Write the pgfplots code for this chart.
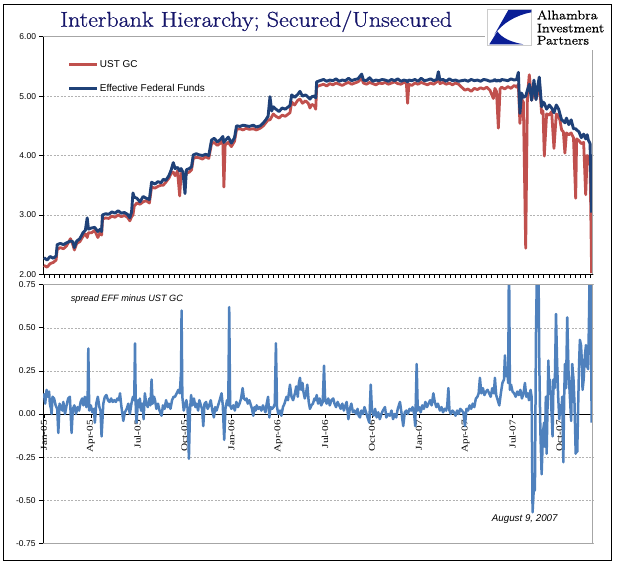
\documentclass[border=0pt]{standalone}
\usepackage{fontspec}
\usepackage{pgfplots}
\usepackage{pgfplotstable}
\pgfplotsset{compat=1.18}
\newfontfamily\arial{Liberation Sans}
\newfontfamily\tnr[FakeStretch=1.25]{Liberation Serif}
\newfontfamily\logofont[FakeStretch=1.15,FakeBold=0.6]{Latin Modern Roman}
\newfontfamily\titlefont[FakeStretch=1.12,FakeBold=0.8]{Latin Modern Roman}
\definecolor{gcred}{RGB}{192,80,77}
\definecolor{effblue}{RGB}{31,65,120}
\definecolor{sprblue}{RGB}{79,129,189}
\definecolor{titleblue}{RGB}{20,20,105}
\definecolor{logoblue}{RGB}{10,30,150}

\pgfplotstableread{
m gc eff
0.00 2.15 2.28
0.20 2.12 2.24
0.40 2.18 2.30
0.60 2.20 2.27
0.78 2.24 2.31
0.85 2.42 2.50
1.05 2.45 2.52
1.25 2.43 2.50
1.45 2.48 2.53
1.70 2.60 2.56
1.85 2.50 2.55
1.95 2.41 2.45
2.10 2.52 2.56
2.30 2.55 2.60
2.50 2.64 2.70
2.65 2.68 2.74
2.77 2.62 2.95
2.85 2.70 2.76
3.05 2.70 2.78
3.25 2.74 2.79
3.45 2.62 2.72
3.60 2.70 2.76
3.69 2.66 2.72
3.75 2.93 3.00
3.95 2.95 3.02
4.15 2.94 3.01
4.35 2.98 3.05
4.55 2.96 3.03
4.75 3.00 3.07
4.95 2.97 3.03
5.15 2.99 3.04
5.35 2.96 3.01
5.50 2.90 2.95
5.61 2.97 3.05
5.70 3.00 3.37
5.78 3.15 3.30
5.95 3.20 3.28
6.15 3.18 3.22
6.35 3.22 3.31
6.55 3.24 3.28
6.75 3.20 3.26
6.89 3.47 3.55
7.10 3.45 3.52
7.30 3.48 3.56
7.50 3.50 3.54
7.64 3.50 3.60
7.80 3.55 3.58
8.00 3.62 3.66
8.15 3.70 3.76
8.28 3.72 3.88
8.40 3.66 3.78
8.55 3.74 3.80
8.69 3.32 3.74
8.78 3.70 3.78
8.90 3.66 3.72
9.03 3.62 3.36
9.12 3.70 3.76
9.30 3.72 3.78
9.45 3.76 3.81
9.56 3.95 4.01
9.75 3.97 4.03
9.95 3.96 4.01
10.15 3.94 4.00
10.35 3.98 4.02
10.55 3.95 4.00
10.73 4.20 4.26
10.90 4.22 4.29
11.10 4.17 4.23
11.30 4.21 4.27
11.45 4.25 4.32
11.52 3.47 4.22
11.60 4.18 4.25
11.80 4.22 4.31
12.00 4.15 4.21
12.20 4.24 4.30
12.33 4.44 4.50
12.55 4.45 4.49
12.75 4.43 4.51
12.95 4.46 4.50
13.15 4.44 4.49
13.40 4.45 4.51
13.60 4.43 4.48
13.85 4.46 4.50
14.05 4.50 4.55
14.20 4.55 4.60
14.35 4.60 4.66
14.47 4.60 4.99
14.58 4.65 4.75
14.68 4.70 4.82
14.85 4.66 4.78
15.05 4.63 4.74
15.25 4.68 4.80
15.45 4.66 4.78
15.65 4.70 4.82
15.75 4.72 4.84
15.86 4.90 5.02
16.05 4.85 4.98
16.25 4.93 5.03
16.39 4.95 5.08
16.55 4.88 5.00
16.75 4.92 5.02
16.92 4.88 4.98
17.03 4.80 4.95
17.15 4.86 4.99
17.30 4.84 5.00
17.40 4.78 4.97
17.46 5.16 5.24
17.67 5.18 5.26
17.90 5.20 5.28
18.10 5.17 5.25
18.30 5.21 5.27
18.50 5.19 5.26
18.70 5.22 5.29
18.90 5.20 5.25
19.10 5.18 5.27
19.30 5.21 5.26
19.50 5.23 5.30
19.70 5.20 5.26
19.90 5.22 5.28
20.10 5.24 5.29
20.34 5.30 5.37
20.45 5.22 5.27
20.65 5.20 5.26
20.85 5.23 5.31
21.05 5.21 5.25
21.25 5.19 5.27
21.45 5.22 5.26
21.65 5.21 5.28
21.85 5.23 5.27
22.05 5.20 5.25
22.25 5.22 5.28
22.45 5.24 5.26
22.65 5.21 5.29
22.85 5.20 5.25
23.05 5.23 5.27
23.20 5.22 5.26
23.28 4.88 5.24
23.36 5.20 5.27
23.55 5.18 5.26
23.75 5.22 5.28
23.95 5.20 5.25
24.15 5.23 5.30
24.35 5.21 5.26
24.55 5.19 5.27
24.75 5.22 5.29
24.95 5.20 5.26
25.15 5.24 5.28
25.25 5.32 5.41
25.35 5.21 5.27
25.55 5.23 5.28
25.75 5.20 5.25
25.95 5.22 5.29
26.15 5.19 5.26
26.35 5.22 5.27
26.55 5.20 5.25
26.74 5.15 5.26
26.95 5.10 5.27
27.15 5.12 5.25
27.35 5.08 5.28
27.55 5.13 5.26
27.75 5.11 5.27
27.95 5.14 5.25
28.15 5.12 5.28
28.35 5.15 5.27
28.55 5.10 5.25
28.77 4.96 5.26
28.87 5.13 5.28
28.97 5.08 5.25
29.09 4.46 5.27
29.20 5.12 5.25
29.30 5.15 5.28
29.50 5.12 5.27
29.70 5.16 5.26
29.90 5.13 5.29
30.10 5.18 5.27
30.26 5.15 5.28
30.37 5.20 5.40
30.47 4.54 4.71
30.58 4.95 5.05
30.69 4.90 4.98
30.84 2.44 5.00
30.95 5.00 5.10
31.07 5.36 5.20
31.22 4.93 4.93
31.37 5.10 5.27
31.50 4.95 4.94
31.60 5.05 5.15
31.71 5.25 5.32
31.86 4.71 4.82
31.95 4.75 4.90
32.03 3.99 4.88
32.18 4.70 4.78
32.35 4.68 4.85
32.50 4.74 4.80
32.65 4.12 4.72
32.80 4.70 4.85
32.95 4.65 4.78
33.03 4.60 4.70
33.14 4.43 4.60
33.25 4.40 4.58
33.35 4.04 4.55
33.45 4.38 4.63
33.60 4.35 4.52
33.75 4.38 4.60
33.90 4.30 4.45
34.04 3.28 4.45
34.10 4.28 4.43
34.25 4.25 4.40
34.40 4.20 4.30
34.55 4.22 4.36
34.68 3.34 4.28
34.78 4.00 4.35
34.85 3.98 4.26
34.96 3.95 4.20
35.06 2.02 3.04
}\topdata

\pgfplotstableread{
m s
0.00 0.12
0.08 0.06
0.17 0.14
0.25 0.10
0.33 0.13
0.38 0.06
0.45 0.03
0.49 0.00
0.55 0.10
0.65 0.09
0.75 0.05
0.85 0.03
0.92 -0.11
1.00 0.06
1.10 0.04
1.18 0.02
1.24 0.07
1.35 0.00
1.45 0.05
1.55 0.09
1.66 0.10
1.77 -0.11
1.85 0.03
1.95 0.05
2.05 0.00
2.15 0.04
2.25 0.02
2.35 0.07
2.45 0.09
2.52 0.05
2.62 0.10
2.72 0.04
2.80 0.10
2.84 0.38
2.90 0.02
3.00 0.05
3.10 0.01
3.20 0.03
3.26 -0.05
3.35 0.06
3.45 0.10
3.55 0.04
3.62 0.02
3.69 -0.13
3.80 0.06
3.90 0.10
4.00 0.11
4.10 0.08
4.20 0.07
4.30 0.09
4.40 0.07
4.50 0.08
4.60 0.07
4.70 0.09
4.80 0.08
4.87 0.12
4.95 0.05
5.08 -0.04
5.18 0.01
5.30 0.03
5.40 0.06
5.50 0.00
5.60 0.06
5.70 0.10
5.78 0.08
5.83 0.41
5.88 0.03
5.93 -0.05
6.02 0.08
6.10 0.04
6.14 0.09
6.22 0.02
6.30 0.06
6.38 -0.03
6.46 0.12
6.55 0.06
6.65 0.04
6.75 0.09
6.82 0.05
6.89 0.20
6.96 0.06
7.05 0.10
7.11 0.08
7.20 0.03
7.30 0.06
7.40 0.02
7.53 -0.01
7.62 0.05
7.72 0.03
7.82 0.08
7.92 0.04
8.00 0.06
8.10 0.03
8.20 0.08
8.30 0.10
8.39 0.10
8.50 0.12
8.60 0.14
8.70 0.12
8.78 0.25
8.81 0.60
8.86 0.10
8.95 0.02
9.03 0.05
9.12 0.08
9.20 0.03
9.28 -0.26
9.35 0.02
9.42 0.11
9.50 0.05
9.60 0.09
9.70 0.04
9.77 0.06
9.87 0.02
9.95 0.08
10.05 0.05
10.12 0.03
10.20 -0.07
10.28 0.06
10.38 0.07
10.48 0.03
10.58 0.05
10.68 0.08
10.78 0.02
10.88 -0.02
10.96 0.04
11.05 0.02
11.15 0.05
11.25 0.08
11.37 0.12
11.45 0.05
11.54 -0.15
11.62 0.03
11.72 0.08
11.80 0.05
11.86 0.62
11.92 0.05
12.00 0.03
12.12 0.05
12.22 0.02
12.32 0.07
12.42 0.04
12.52 0.06
12.62 0.09
12.72 0.15
12.80 0.09
12.90 0.08
12.97 0.09
13.05 0.06
13.15 0.08
13.25 0.05
13.32 0.03
13.40 -0.01
13.48 0.04
13.55 0.02
13.62 0.05
13.72 0.03
13.82 0.04
13.92 0.02
14.02 0.05
14.10 0.03
14.18 0.01
14.26 0.06
14.35 0.10
14.43 -0.02
14.50 0.04
14.60 0.03
14.70 0.04
14.78 0.06
14.85 0.41
14.92 0.04
15.00 0.00
15.11 0.02
15.20 -0.01
15.30 0.04
15.40 0.06
15.53 0.10
15.62 0.08
15.75 0.17
15.85 0.10
15.95 0.08
16.07 0.12
16.15 0.16
16.25 0.10
16.32 0.18
16.39 0.21
16.47 0.14
16.55 0.18
16.61 0.13
16.70 0.09
16.78 0.12
16.86 0.17
16.95 0.07
17.03 0.03
17.12 0.05
17.22 0.06
17.32 0.09
17.40 0.08
17.46 0.11
17.55 0.06
17.65 0.09
17.75 0.05
17.85 0.07
17.93 0.28
18.00 0.08
18.10 0.06
18.20 0.09
18.30 0.05
18.40 0.08
18.52 0.09
18.60 0.06
18.70 0.04
18.80 0.07
18.90 0.05
19.00 0.03
19.10 0.06
19.20 0.02
19.30 0.05
19.38 0.07
19.49 -0.03
19.58 0.03
19.68 0.06
19.78 0.01
19.88 0.02
19.98 0.00
20.08 0.03
20.15 -0.01
20.23 -0.02
20.32 0.02
20.42 0.00
20.52 0.04
20.62 0.01
20.72 -0.02
20.83 -0.05
20.92 0.17
21.00 0.02
21.10 -0.01
21.20 0.03
21.30 -0.02
21.40 0.01
21.50 -0.03
21.60 0.00
21.70 0.02
21.83 0.04
21.92 -0.02
22.02 0.00
22.15 -0.01
22.25 0.02
22.35 -0.03
22.45 0.00
22.55 -0.02
22.65 0.03
22.79 0.07
22.90 0.00
23.00 -0.07
23.10 0.01
23.20 0.02
23.30 0.00
23.40 0.03
23.50 0.02
23.60 0.04
23.70 0.00
23.77 -0.07
23.86 0.29
23.93 0.02
24.02 0.04
24.12 0.01
24.22 0.05
24.32 0.03
24.42 0.07
24.52 0.04
24.62 0.06
24.72 0.08
24.82 0.05
24.93 0.12
25.02 0.07
25.12 0.04
25.22 0.06
25.35 0.02
25.45 0.04
25.55 0.01
25.65 0.03
25.75 0.02
25.82 0.05
25.89 0.15
25.96 0.02
26.05 0.00
26.15 0.02
26.25 0.01
26.35 -0.01
26.45 0.02
26.55 0.00
26.65 0.03
26.75 0.02
26.85 0.01
26.95 -0.07
27.05 0.03
27.15 0.02
27.25 0.05
27.35 0.03
27.45 0.06
27.55 0.04
27.65 0.09
27.75 0.10
27.83 0.12
27.91 0.21
28.00 0.12
28.10 0.15
28.20 0.11
28.30 0.13
28.40 0.14
28.50 0.12
28.60 0.10
28.70 0.15
28.80 0.12
28.87 0.21
28.95 0.11
29.05 0.08
29.15 0.05
29.25 0.12
29.35 0.18
29.45 0.20
29.51 0.34
29.58 0.22
29.65 0.26
29.72 0.18
29.77 0.95
29.83 0.14
29.90 0.17
30.00 0.13
30.10 0.12
30.20 0.10
30.30 0.13
30.40 0.11
30.50 0.14
30.60 0.09
30.70 0.12
30.79 0.18
30.88 0.10
30.98 0.12
31.05 0.08
31.15 0.14
31.22 0.10
31.28 -0.57
31.35 -0.45
31.43 -0.44
31.50 0.48
31.58 0.95
31.65 0.95
31.71 0.30
31.78 -0.10
31.86 -0.35
31.95 -0.10
32.02 -0.05
32.07 -0.19
32.13 0.10
32.18 -0.23
32.24 0.05
32.29 0.31
32.34 0.15
32.39 0.20
32.45 0.10
32.50 0.00
32.56 -0.13
32.62 0.20
32.70 0.15
32.78 0.58
32.85 0.30
32.92 0.10
32.99 -0.03
33.05 0.05
33.12 0.00
33.18 0.10
33.25 -0.28
33.30 0.08
33.35 0.29
33.42 0.15
33.50 0.56
33.58 0.25
33.67 0.10
33.75 -0.04
33.82 0.29
33.90 0.20
33.97 0.05
34.04 -0.23
34.10 -0.20
34.14 -0.22
34.20 0.05
34.26 0.30
34.31 0.43
34.38 0.40
34.44 0.30
34.48 0.14
34.55 0.20
34.63 0.34
34.70 0.40
34.74 0.28
34.80 0.27
34.84 0.26
34.90 0.60
34.95 0.95
35.00 0.95
35.06 -0.05
}\spreaddata

\begin{document}
\begin{tikzpicture}
\fill[white] (0,0) rectangle (618bp,-581bp);
\useasboundingbox (0,0) rectangle (618bp,-581bp);
\draw[black, line width=1bp] (3.3bp,-4bp) rectangle (611.7bp,-560bp);

\pgfplotsset{
  every axis/.append style={
    scale only axis,
    xmin=-0.06, xmax=35.13,
    axis line style={black, line width=0.8bp},
    tick style={black, line width=0.6bp},
    major tick length=4bp,
    tick align=outside,
    ymajorgrids,
    major grid style={gray!60, dash pattern=on 2bp off 1.5bp, line width=0.5bp},
    yticklabel style={font=\fontsize{8.5}{10}\arial, /pgf/number format/assume math mode=true},
    /pgf/number format/.cd, fixed, fixed zerofill, precision=2,
  },
}

\begin{axis}[
  name=top,
  at={(43bp,-274.3bp)}, anchor=south west,
  width=549.7bp, height=237.6bp,
  axis x line*=bottom, axis y line*=left,
  ymin=2, ymax=6, ytick={2,3,4,5,6},
  xtick={0,0.3333,...,35.1},
  xticklabels={},
  major tick length=3.5bp,
  legend style={draw=none, fill=none, at={(axis description cs:0.045,0.905)}, anchor=north west,
    font=\fontsize{10}{12}\arial, row sep=13bp, inner sep=0pt, nodes={inner sep=1pt}},
  legend cell align=left,
  legend image code/.code={\draw[#1, line width=3bp] (0bp,0bp) -- (28bp,0bp);},
]
\addplot[gcred, line width=2.8bp, line join=round] table[x=m, y=gc] {\topdata};
\addlegendentry{UST GC}
\addplot[effblue, line width=2.9bp, line join=round] table[x=m, y=eff] {\topdata};
\addlegendentry{Effective Federal Funds}
\end{axis}
\draw[gray!70, line width=0.8bp] (top.north west) -- (top.north east) -- (top.south east);

\begin{axis}[
  name=bot,
  at={(43bp,-543.3bp)}, anchor=south west,
  width=549.7bp, height=258.6bp,
  axis x line*=middle, axis y line*=left,
  hide obscured x ticks=false,
  ymin=-0.75, ymax=0.75, ytick={-0.75,-0.5,...,0.76},
  xtick={0,3,...,33},
  xticklabels={Jan-05,Apr-05,Jul-05,Oct-05,Jan-06,Apr-06,Jul-06,Oct-06,Jan-07,Apr-07,Jul-07,Oct-07},
  xticklabel style={rotate=90, anchor=east, font=\fontsize{9}{10}\tnr, inner sep=2pt},
]
\addplot[sprblue, line width=2.5bp, line join=round] table[x=m, y=s] {\spreaddata};
\node[font=\fontsize{9.2}{11}\arial\itshape, anchor=center] at (axis cs:5.31,0.669) {spread EFF minus UST GC};
\node[font=\fontsize{9.8}{11}\arial\itshape, anchor=center] at (axis cs:30.78,-0.61) {August 9, 2007};
\end{axis}
\draw[gray!70, line width=0.8bp] (bot.north west) -- (bot.north east) -- (bot.south east) -- (bot.south west);

% title
\node[anchor=base west, inner sep=0pt, text=titleblue, font=\fontsize{21.5}{24}\titlefont] at (60bp,-26.7bp) {Interbank Hierarchy; Secured/Unsecured};

% logo
\fill[white] (485bp,-5bp) rectangle (610.5bp,-50bp);
\begin{scope}[shift={(440bp,0bp)}, x=0.3333bp, y=-0.3333bp]
  \draw[gray!40, fill=white, line width=0.6bp] (142,28) rectangle (275,135);
  \fill[logoblue] (205,30) -- (274,30) -- (274,37) .. controls (225,46) and (185,72) .. (163,104) -- cycle;
  \fill[logoblue] (148,133) -- (250,133) .. controls (212,126) and (186,114) .. (172,94) -- cycle;
\end{scope}
\node[anchor=base west, inner sep=0pt, font=\fontsize{12.5}{13}\logofont] at (536.7bp,-19.3bp) {Alhambra};
\node[anchor=base west, inner sep=0pt, font=\fontsize{12.5}{13}\logofont] at (536.7bp,-32.3bp) {Investment};
\node[anchor=base west, inner sep=0pt, font=\fontsize{12.5}{13}\logofont] at (536.7bp,-44.5bp) {Partners};
\end{tikzpicture}
\end{document}
